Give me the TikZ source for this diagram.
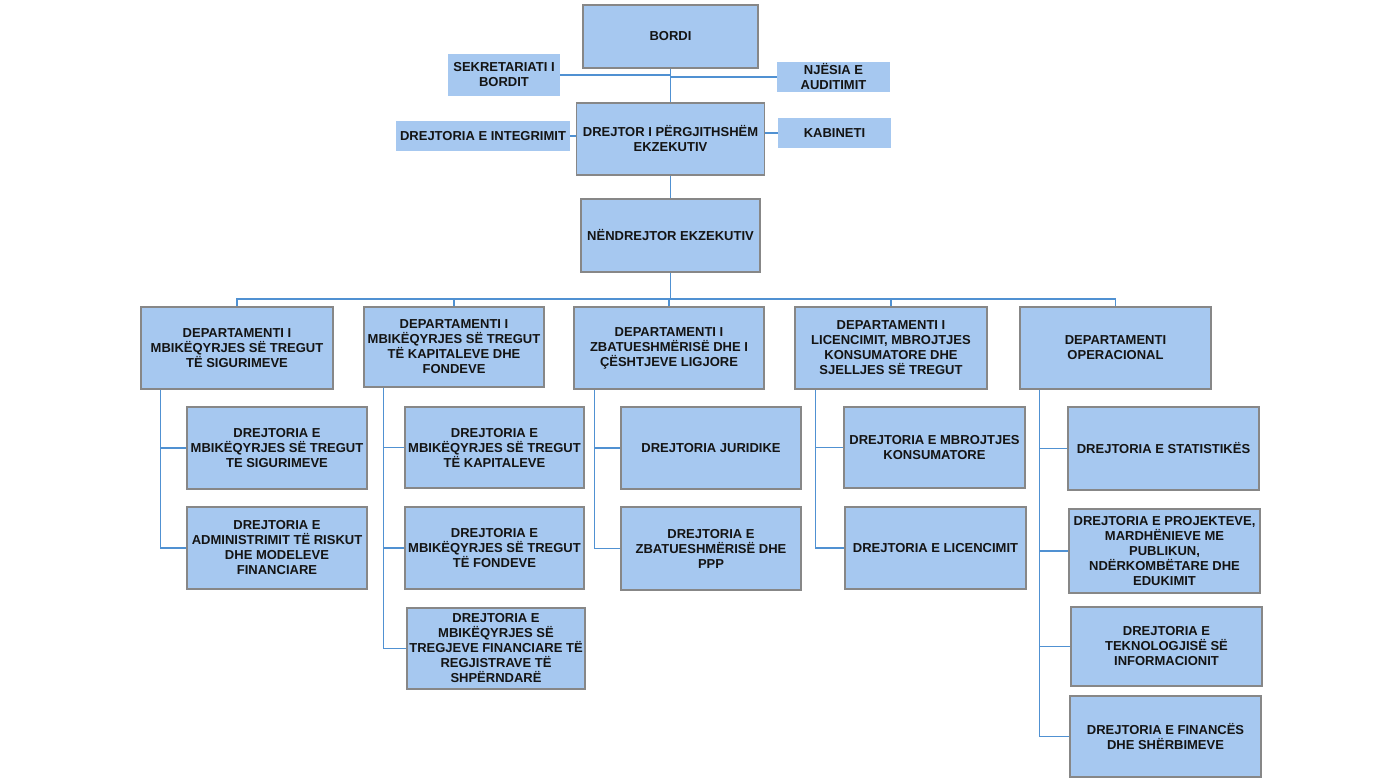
\documentclass[tikz,border=0pt]{standalone}
\usepackage{fontspec}
\setmainfont{Liberation Sans}
\definecolor{boxfill}{RGB}{166,200,240}
\definecolor{boxline}{RGB}{135,135,135}
\definecolor{connblue}{RGB}{80,145,210}
\definecolor{txt}{RGB}{20,20,20}
\begin{document}
\begin{tikzpicture}[x=1pt,y=-1pt,
  base/.style={rectangle, fill=boxfill, inner sep=0pt, align=center, text=txt,
    font=\fontsize{13}{15}\selectfont\bfseries},
  box/.style={base, draw=boxline, line width=1.1pt},
  side/.style={base},
  link/.style={draw=connblue, line width=1.3pt}]
\useasboundingbox (0,0) rectangle (1388,780);

% top level
\node[box, minimum width=175pt, minimum height=63pt] (bordi) at (670.5,36.5) {BORDI};
\node[side, minimum width=112pt, minimum height=42pt] (sek) at (504,75) {SEKRETARIATI I\\BORDIT};
\node[side, minimum width=113pt, minimum height=30pt] (nje) at (833.5,77) {NJËSIA E\\AUDITIMIT};
\node[box, minimum width=188pt, minimum height=72pt] (dpe) at (670.5,139) {DREJTOR I PËRGJITHSHËM\\EKZEKUTIV};
\node[side, minimum width=174pt, minimum height=30pt] (integ) at (483,136) {DREJTORIA E INTEGRIMIT};
\node[side, minimum width=113pt, minimum height=30pt] (kab) at (834.5,133) {KABINETI};
\node[box, minimum width=179pt, minimum height=73pt] (nen) at (670.5,235.5) {NËNDREJTOR EKZEKUTIV};

% departments
\node[box, minimum width=192pt, minimum height=82pt] (d1) at (237,348) {DEPARTAMENTI I\\MBIKËQYRJES SË TREGUT\\TË SIGURIMEVE};
\node[box, minimum width=180pt, minimum height=80pt] (d2) at (454,347) {DEPARTAMENTI I\\MBIKËQYRJES SË TREGUT\\TË KAPITALEVE DHE\\FONDEVE};
\node[box, minimum width=190pt, minimum height=82pt] (d3) at (669,348) {DEPARTAMENTI I\\ZBATUESHMËRISË DHE I\\ÇËSHTJEVE LIGJORE};
\node[box, minimum width=192pt, minimum height=82pt] (d4) at (891,348) {DEPARTAMENTI I\\LICENCIMIT, MBROJTJES\\KONSUMATORE DHE\\SJELLJES SË TREGUT};
\node[box, minimum width=191pt, minimum height=82pt] (d5) at (1115.5,348) {DEPARTAMENTI\\OPERACIONAL};

% directorates
\node[box, minimum width=180pt, minimum height=82pt] (c11) at (277,448) {DREJTORIA E\\MBIKËQYRJES SË TREGUT\\TE SIGURIMEVE};
\node[box, minimum width=180pt, minimum height=82pt] (c12) at (277,548) {DREJTORIA E\\ADMINISTRIMIT TË RISKUT\\DHE MODELEVE\\FINANCIARE};
\node[box, minimum width=179pt, minimum height=81pt] (c21) at (494.5,447.5) {DREJTORIA E\\MBIKËQYRJES SË TREGUT\\TË KAPITALEVE};
\node[box, minimum width=179pt, minimum height=82pt] (c22) at (494.5,548) {DREJTORIA E\\MBIKËQYRJES SË TREGUT\\TË FONDEVE};
\node[box, minimum width=178pt, minimum height=81pt] (c23) at (496,648.5) {DREJTORIA E\\MBIKËQYRJES SË\\TREGJEVE FINANCIARE TË\\REGJISTRAVE TË\\SHPËRNDARË};
\node[box, minimum width=180pt, minimum height=82pt] (c31) at (711,448) {DREJTORIA JURIDIKE};
\node[box, minimum width=180pt, minimum height=83pt] (c32) at (711,548.5) {DREJTORIA E\\ZBATUESHMËRISË DHE\\PPP};
\node[box, minimum width=181pt, minimum height=81pt] (c41) at (934.5,447.5) {DREJTORIA E MBROJTJES\\KONSUMATORE};
\node[box, minimum width=181pt, minimum height=82pt] (c42) at (935.5,548) {DREJTORIA E LICENCIMIT};
\node[box, minimum width=191pt, minimum height=83pt] (c51) at (1163.5,448.5) {DREJTORIA E STATISTIKËS};
\node[box, minimum width=191pt, minimum height=84pt] (c52) at (1164.5,551) {DREJTORIA E PROJEKTEVE,\\MARDHËNIEVE ME\\PUBLIKUN,\\NDËRKOMBËTARE DHE\\EDUKIMIT};
\node[box, minimum width=191pt, minimum height=79pt] (c53) at (1166.5,646.5) {DREJTORIA E\\TEKNOLOGJISË SË\\INFORMACIONIT};
\node[box, minimum width=191pt, minimum height=81pt] (c54) at (1165.5,736.5) {DREJTORIA E FINANCËS\\DHE SHËRBIMEVE};

% connectors: top
\draw[link] (bordi.south) -- (dpe.north);
\draw[link] (sek.east) -- (sek.east -| bordi.south);
\draw[link] (nje.west) -- (nje.west -| bordi.south);
\draw[link] (integ.east) -- (integ.east -| dpe.west);
\draw[link] (kab.west) -- (kab.west -| dpe.east);
\draw[link] (dpe.south) -- (nen.north);
\coordinate (bus) at (670.5,299);
\draw[link] (nen.south) -- (bus);
\draw[link] (d1.north) -- (d1.north |- bus) -- (d5.north |- bus) -- (d5.north);
\draw[link] (d2.north) -- (d2.north |- bus);
\draw[link] (d3.north) -- (d3.north |- bus);
\draw[link] (d4.north) -- (d4.north |- bus);

% spines
\coordinate (s1) at ([xshift=20pt]d1.south west);
\coordinate (s2) at ([xshift=20pt]d2.south west);
\coordinate (s3) at ([xshift=21pt]d3.south west);
\coordinate (s4) at ([xshift=21pt]d4.south west);
\coordinate (s5) at ([xshift=20pt]d5.south west);
\draw[link] (s1) |- (c12.west);
\draw[link] (s1 |- c11.west) -- (c11.west);
\draw[link] (s2) |- (c23.west);
\draw[link] (s2 |- c21.west) -- (c21.west);
\draw[link] (s2 |- c22.west) -- (c22.west);
\draw[link] (s3) |- (c32.west);
\draw[link] (s3 |- c31.west) -- (c31.west);
\draw[link] (s4) |- (c42.west);
\draw[link] (s4 |- c41.west) -- (c41.west);
\draw[link] (s5) |- (c54.west);
\draw[link] (s5 |- c51.west) -- (c51.west);
\draw[link] (s5 |- c52.west) -- (c52.west);
\draw[link] (s5 |- c53.west) -- (c53.west);
\end{tikzpicture}
\end{document}
